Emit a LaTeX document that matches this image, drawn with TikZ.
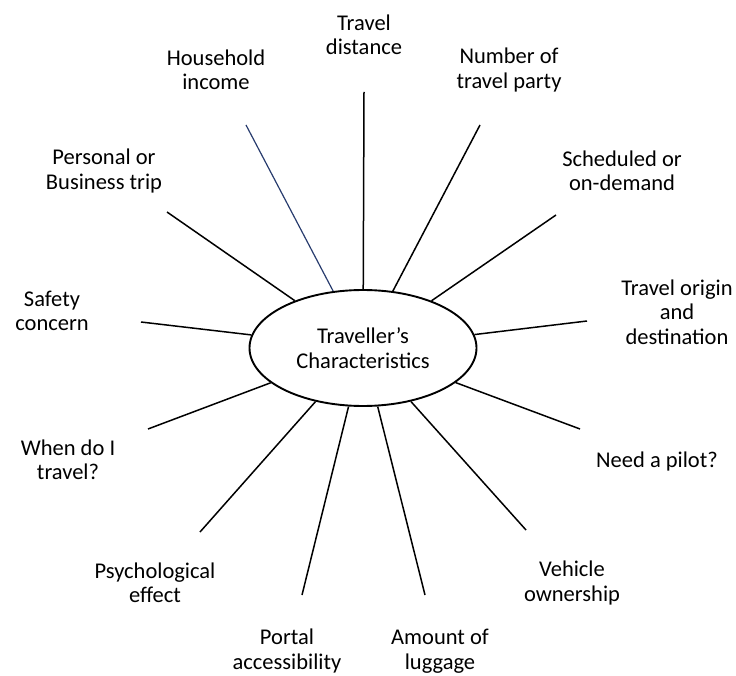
\documentclass[tikz,border=0pt]{standalone}
\usepackage{fontspec}
\setmainfont{Carlito}
\usetikzlibrary{shapes.geometric}
\begin{document}
\begin{tikzpicture}[x=1pt,y=-1pt,
  lbl/.style={align=center,inner sep=0pt,font=\fontsize{22.5}{24.5}\selectfont},
  spoke/.style={line width=1.5pt,black},
  bluespoke/.style={line width=1.2pt,color={rgb,255:red,40;green,60;blue,110}},
  core/.style={ellipse,draw,line width=1.9pt,minimum width=227pt,minimum height=116pt,inner sep=0pt,align=center,font=\fontsize{22.5}{24.5}\selectfont}]
\useasboundingbox (0,0) rectangle (736,676);
\node[core] (el) at (363,348) {Traveller’s\\Characteristics};
% labels
\node[lbl] (td) at (364,35) {Travel\\distance};
\node[lbl] (hi) at (216,70) {Household\\income};
\node[lbl] (np) at (509,70) {Number of\\travel party};
\node[lbl] (pb) at (104,171) {Personal or\\Business trip};
\node[lbl] (so) at (622,171) {Scheduled or\\on-demand};
\node[lbl] (sc) at (52,311) {Safety\\concern};
\node[lbl] (to) at (677,312) {Travel origin\\and\\destination};
\node[lbl] (wt) at (68,460) {When do I\\travel?};
\node[lbl] (pi) at (657,461) {Need a pilot?};
\node[lbl] (ps) at (155,583) {Psychological\\effect};
\node[lbl] (vo) at (572,583) {Vehicle\\ownership};
\node[lbl] (pa) at (287,651) {Portal\\accessibility};
\node[lbl] (al) at (440,651) {Amount of\\luggage};
% outer ends of spokes
\coordinate (etd) at (364,92);
\coordinate (ehi) at (246,125);
\coordinate (enp) at (480,125);
\coordinate (epb) at (167,212);
\coordinate (eso) at (556,215);
\coordinate (esc) at (141,322);
\coordinate (eto) at (587,321);
\coordinate (ewt) at (148,429);
\coordinate (epi) at (580,429);
\coordinate (eps) at (200,532);
\coordinate (evo) at (526,530);
\coordinate (epa) at (302,595);
\coordinate (eal) at (425,595);
% spokes
\draw[spoke] (etd) -- (el);
\draw[bluespoke] (ehi) -- (el);
\draw[spoke] (enp) -- (el);
\draw[spoke] (epb) -- (el);
\draw[spoke] (eso) -- (el);
\draw[spoke] (esc) -- (el);
\draw[spoke] (eto) -- (el);
\draw[spoke] (ewt) -- (el);
\draw[spoke] (epi) -- (el);
\draw[spoke] (eps) -- (el);
\draw[spoke] (evo) -- (el);
\draw[spoke] (epa) -- (el);
\draw[spoke] (eal) -- (el);
\end{tikzpicture}
\end{document}
